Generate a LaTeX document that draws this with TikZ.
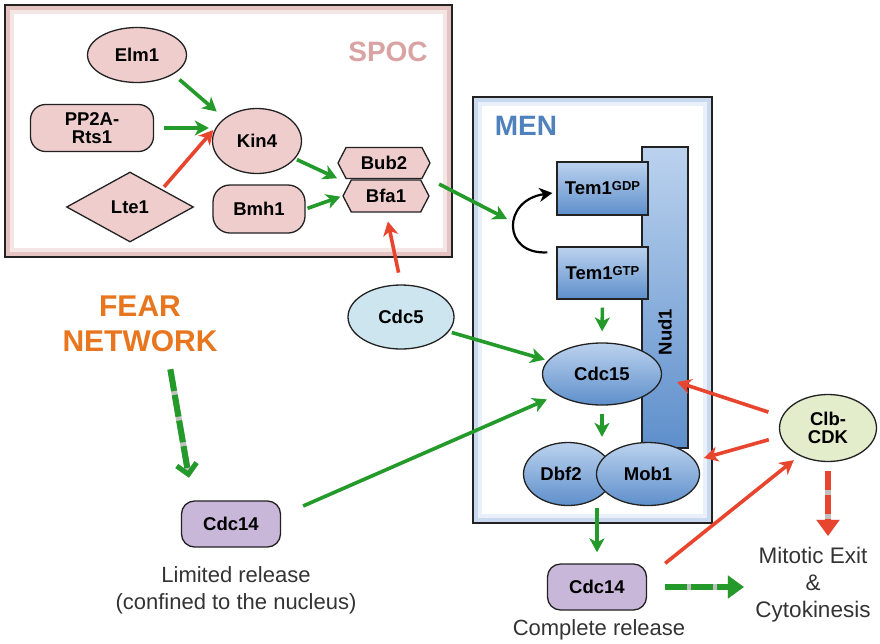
\documentclass[tikz,border=0pt]{standalone}
\usepackage{fontspec}
\setmainfont{Liberation Sans}
\usetikzlibrary{shapes.geometric,shapes.symbols,arrows.meta,calc}

\definecolor{pinkfill}{HTML}{EFCDCD}
\definecolor{spocpink}{HTML}{D9A3A3}
\definecolor{spocband}{HTML}{E6C3C3}
\definecolor{spocbandlight}{HTML}{F5E6E6}
\definecolor{menblue}{HTML}{4F81BD}
\definecolor{menband}{HTML}{C9DAF0}
\definecolor{menbandlight}{HTML}{E9F0F9}
\definecolor{bluetop}{HTML}{BBD2EE}
\definecolor{bluebot}{HTML}{5E8FCB}
\definecolor{cdcfive}{HTML}{CDE5EF}
\definecolor{lavender}{HTML}{C8B7D9}
\definecolor{clbgreen}{HTML}{E3EDCB}
\definecolor{grn}{HTML}{239A2A}
\definecolor{rd}{HTML}{E8452F}
\definecolor{fearorange}{HTML}{E8761F}
\definecolor{txtgray}{HTML}{333333}
\definecolor{edge}{HTML}{222222}

\newcommand\protfont{\bfseries\fontsize{18.5}{20}\selectfont}
\newcommand\supfont{\fontsize{13}{13}\selectfont}
\newcommand\labfont{\fontsize{22}{27}\selectfont}

\begin{document}
\begin{tikzpicture}[x=1pt,y=-1pt,
  outline/.style={draw=edge, line width=1.3pt, inner sep=0pt, font=\protfont, text=black},
  pinkell/.style={outline, ellipse, fill=pinkfill},
  pinkbox/.style={outline, rectangle, rounded corners=15pt, fill=pinkfill, align=center},
  pinkhex/.style={outline, signal, signal to=west and east, signal pointer angle=125, fill=pinkfill},
  bluebox/.style={outline, rectangle, top color=bluetop, bottom color=bluebot},
  blueell/.style={outline, ellipse, top color=bluetop, bottom color=bluebot},
  purplebox/.style={outline, rectangle, rounded corners=13pt, fill=lavender},
  garrow/.style={draw=grn, line width=3.6pt, -{Stealth[length=14pt,width=15pt,inset=4pt]}},
  rarrow/.style={draw=rd, line width=3.6pt, -{Stealth[length=14pt,width=15pt,inset=4pt]}},
  gapline/.style={draw=black!25, line width=6pt},
  dashgrn/.style={draw=grn, line width=6pt, dash pattern=on 22pt off 4pt},
  dashred/.style={draw=rd, line width=6pt, dash pattern=on 19pt off 5pt},
  headtri/.style={-{Triangle[length=16pt,width=22pt]}},
  headbarb/.style={-{Straight Barb[length=10pt,width=20pt,line width=5pt]}}
]
\useasboundingbox (0,0) rectangle (880,643);

% ---- SPOC frame ----
\fill[white] (5,5) rectangle (452,257);
\draw[spocbandlight, line width=4pt] (12,12) rectangle (445,250);
\draw[spocband, line width=4pt] (8,8) rectangle (449,254);
\draw[edge, line width=1.8pt] (5,5) rectangle (452,257);
\node[font=\bfseries\fontsize{28}{30}\selectfont, text=spocpink] (spoc) at (388,52) {SPOC};

% ---- MEN frame ----
\fill[white] (473,97) rectangle (712,523);
\draw[menbandlight, line width=4pt] (480,104) rectangle (705,516);
\draw[menband, line width=4pt] (476,100) rectangle (709,520);
\draw[edge, line width=1.8pt] (473,97) rectangle (712,523);
\node[font=\bfseries\fontsize{28}{30}\selectfont, text=menblue] (men) at (526,126) {MEN};

% ---- SPOC components ----
\node[pinkell, minimum width=99pt, minimum height=55pt] (elm) at (137,55) {Elm1};
\node[pinkbox, minimum width=123pt, minimum height=47pt] (pp2a) at (92,128) {PP2A-\\[-2pt]Rts1};
\node[pinkell, minimum width=89pt, minimum height=65pt] (kin) at (257,141) {Kin4};
\node[outline, diamond, fill=pinkfill, minimum width=127pt, minimum height=70pt, aspect=1.8] (lte) at (130,207) {Lte1};
\node[pinkbox, rounded corners=17pt, minimum width=92pt, minimum height=48pt] (bmh) at (259,209) {Bmh1};
\node[pinkhex, minimum width=92pt, minimum height=31pt] (bub) at (384,163) {Bub2};
\node[pinkhex, minimum width=86pt, minimum height=32pt] (bfa) at (386,196) {Bfa1};

% ---- MEN components ----
\node[bluebox, minimum width=46pt, minimum height=301pt] (nud) at (665,297.5) {};
\node[font=\protfont, rotate=90] (nudlab) at (665,332) {Nud1};
\node[bluebox, minimum width=91pt, minimum height=53pt] (tgdp) at (602.5,188.5) {Tem1\raisebox{4pt}{\supfont GDP}};
\node[bluebox, minimum width=91pt, minimum height=52pt] (tgtp) at (602.5,273) {Tem1\raisebox{4pt}{\supfont GTP}};
\node[blueell, minimum width=119pt, minimum height=62pt] (cdc15) at (602,374) {Cdc15};
\node[blueell, minimum width=89pt, minimum height=63pt] (dbf) at (568,474) {\hspace*{-14pt}Dbf2};
\node[blueell, minimum width=103pt, minimum height=63pt] (mob) at (648,474) {Mob1};

% ---- other players ----
\node[outline, ellipse, fill=cdcfive, minimum width=106pt, minimum height=64pt] (cdc5) at (401,317) {Cdc5};
\node[purplebox, minimum width=99pt, minimum height=46pt] (cdc14a) at (231,524) {Cdc14};
\node[purplebox, minimum width=99pt, minimum height=46pt] (cdc14b) at (597,587) {Cdc14};
\node[outline, ellipse, fill=clbgreen, minimum width=97pt, minimum height=67pt, align=center] (clb) at (828,428) {Clb-\\[-2pt]CDK};

% ---- free text ----
\node[font=\bfseries\fontsize{30}{35}\selectfont, text=fearorange, align=center] (fear) at (140,324) {FEAR\\NETWORK};
\node[font=\labfont, text=txtgray, align=center] (lim) at (236,590) {Limited release\\(confined to the nucleus)};
\node[font=\labfont, text=txtgray] (full) at (599,630) {Complete release};
\node[font=\fontsize{22.5}{27}\selectfont, text=txtgray, align=center] (exit) at (813,585) {Mitotic Exit\\\&\\Cytokinesis};

\coordinate (temcycle) at (507,219);
\coordinate (nudhit) at (677,382);

% ---- SPOC arrows ----
\draw[garrow, shorten <=8pt, shorten >=10pt] (elm.-28) -- (kin.145);
\draw[garrow, shorten <=10pt, shorten >=3pt] (pp2a.east) -- (pp2a.east -| kin.west);
\draw[rarrow, shorten <=3pt, shorten >=5pt] (lte.north east) -- (kin.160);
\draw[garrow, shorten <=2pt, shorten >=3pt] (kin.-25) -- ($(bub.west)!0.5!(bfa.west)$);
\draw[garrow, shorten <=2pt, shorten >=2pt] (bmh.east) -- (bfa.west);
\draw[garrow, shorten <=10pt] ($(bub.east)!0.5!(bfa.east)$) -- (temcycle);

% ---- GDP/GTP cycle ----
\draw[black, line width=2.2pt, -{Stealth[length=13pt,width=14pt,inset=4pt]}]
  ([shift={(-9pt,-6pt)}]tgtp.north west) .. controls (502,255) and (502,200) .. ([shift={(-4pt,-4.5pt)}]tgdp.west);

% ---- MEN cascade ----
\draw[garrow, shorten <=8pt, shorten >=11pt] (tgtp.south) -- (cdc15.north);
\draw[garrow, shorten <=8pt, shorten >=5pt] (cdc15.south) -- (cdc15.south |- dbf.north);
\draw[garrow, shorten <=2pt, shorten >=11pt] (cdc14b.north |- mob.south) -- (cdc14b.north);

% ---- inputs ----
\draw[rarrow, shorten <=12pt, shorten >=9pt] (cdc5.north) -- (bfa.south);
\draw[garrow, shorten <=3pt, shorten >=3pt] (cdc5.-17) -- (cdc15.166);
\draw[garrow, shorten >=11pt] ([shift={(22pt,18pt)}]cdc14a.east) -- (cdc15.205);

% ---- Clb-CDK ----
\draw[rarrow, shorten <=14pt] (clb.166) -- (nudhit);
\draw[rarrow, shorten <=12pt, shorten >=9pt] (clb.190) -- (mob.16);
\draw[rarrow, shorten >=7pt] ([xshift=18pt]cdc14b.north east) -- (clb.-136);

% ---- dashed routes ----
\draw[gapline, headtri, shorten <=9pt, shorten >=8pt] (clb.south) -- (clb.south |- exit.north);
\draw[dashred, headtri, shorten <=9pt, shorten >=8pt] (clb.south) -- (clb.south |- exit.north);
\draw[gapline, headtri, shorten <=18pt, shorten >=8pt] (cdc14b.east) -- (cdc14b.east -| exit.west);
\draw[dashgrn, headtri, shorten <=18pt, shorten >=8pt] (cdc14b.east) -- (cdc14b.east -| exit.west);
\draw[gapline, headbarb, shorten <=14pt, shorten >=23pt] ([xshift=28pt]fear.south) -- ([xshift=12pt]cdc14a.north west);
\draw[dashgrn, headbarb, shorten <=14pt, shorten >=23pt] ([xshift=28pt]fear.south) -- ([xshift=12pt]cdc14a.north west);
\end{tikzpicture}
\end{document}
